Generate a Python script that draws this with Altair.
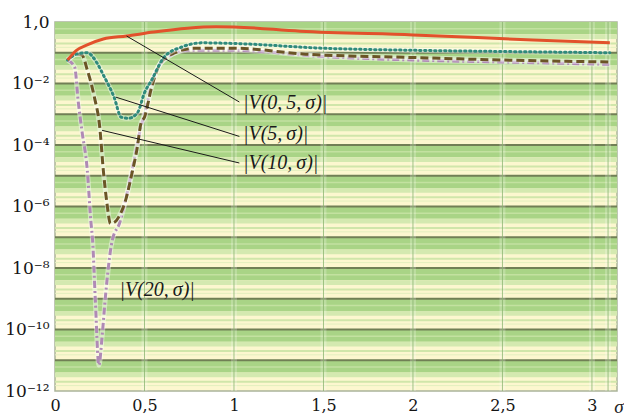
import math
import altair as alt
import pandas as pd

# ---------------- data ----------------
red_sigma = [0.07, 0.12, 0.18, 0.27, 0.40, 0.55, 0.74, 0.90, 1.00, 1.37, 2.00, 2.67, 3.10]
red_val = [0.058, 0.12, 0.18, 0.28, 0.35, 0.47, 0.63, 0.70, 0.69, 0.50, 0.38, 0.26, 0.21]

teal_sigma = [0.07, 0.12, 0.18, 0.235, 0.27, 0.33, 0.37, 0.41, 0.46, 0.50, 0.54, 0.61,
              0.71, 0.82, 1.00, 1.50, 2.00, 2.50, 3.10]
teal_val = [0.058, 0.09, 0.10, 0.046, 0.019, 0.0036, 0.0008, 0.00074, 0.0011, 0.005, 0.013,
            0.072, 0.155, 0.21, 0.20, 0.14, 0.12, 0.11, 0.10]

brown_sigma = [0.07, 0.12, 0.15, 0.18, 0.22, 0.25, 0.27, 0.29, 0.31, 0.33, 0.36, 0.39, 0.43,
               0.46, 0.48, 0.50, 0.54, 0.59, 0.67, 0.78, 1.00, 1.40, 2.00, 2.50, 3.10]
brown_val = [0.058, 0.09, 0.085, 0.028, 0.0036, 0.00038, 1.5e-5, 1.3e-6, 2.8e-7, 3.0e-7, 5e-7,
             1.3e-6, 1.2e-5, 8.5e-5, 5e-4, 8e-4, 0.0076, 0.046, 0.10, 0.14, 0.14, 0.09, 0.07,
             0.058, 0.05]

pink_sigma = [0.07, 0.11, 0.13, 0.15, 0.18, 0.20, 0.21, 0.225, 0.245, 0.265, 0.28, 0.32, 0.36,
              0.43, 0.48, 0.51, 0.55, 0.63, 0.74, 1.00, 1.50, 2.00, 2.50, 3.10]
pink_val = [0.058, 0.034, 0.0025, 3e-4, 1.6e-5, 3.5e-7, 8e-8, 1e-9, 7e-12, 8e-11, 9e-10, 8e-8,
            2.8e-7, 1.5e-5, 3.8e-4, 0.0017, 0.016, 0.072, 0.12, 0.12, 0.075, 0.058, 0.05, 0.042]

label_text = ["|V(0,\u20095,\u2009σ)|", "|V(5,\u2009σ)|", "|V(10,\u2009σ)|", "|V(20,\u2009σ)|"]
label_x = [1.05, 1.05, 1.05, 0.36]
label_y = [0.0023, 2.2e-4, 2.6e-5, 1.9e-9]

leader_x1 = [0.40, 0.34, 0.263]
leader_y1 = [0.35, 0.0036, 3e-4]
leader_x2 = [1.03, 1.03, 1.03]
leader_y2 = [0.0025, 1.9e-4, 2.6e-5]

x_tick_values = [0, 0.5, 1, 1.5, 2, 2.5, 3]
x_tick_labels = ["0", "0,5", "1", "1,5", "2", "2,5", "3"]
y_tick_values = [1, 1e-2, 1e-4, 1e-6, 1e-8, 1e-10, 1e-12]
y_tick_labels = ["1,0", "10⁻²", "10⁻⁴", "10⁻⁶", "10⁻⁸", "10⁻¹⁰", "10⁻¹²"]

decades = list(range(-12, 0))
vgrid = [0.5, 1, 1.5, 2, 2.5, 3, 3.09]

# ---------------- helpers ----------------
W, H = 562, 369
FONT = "Liberation Serif"
AXFONT = "DejaVu Serif"
xscale = alt.Scale(domain=[0, 3.14], nice=False, zero=False)
yscale = alt.Scale(type="log", domain=[1e-12, 1], nice=False)


def xlab_expr():
    s = ""
    for v, l in zip(x_tick_values, x_tick_labels):
        s += f"abs(datum.value - {v}) < 0.01 ? '{l}' : "
    return s + "''"


def ylab_expr():
    s = ""
    for v, l in zip(y_tick_values, y_tick_labels):
        e = round(math.log10(v))
        s += f"abs(log(datum.value)/LN10 - ({e})) < 0.1 ? '{l}' : "
    return s + "''"


xaxis = alt.Axis(values=x_tick_values, labelExpr=xlab_expr(), grid=False, domain=False,
                 ticks=False, labelFont=AXFONT, labelFontSize=16,
                 labelColor="#151515", labelPadding=6, labelFlush=False, title=None)
yaxis = alt.Axis(values=y_tick_values, labelExpr=ylab_expr(), grid=False, domain=False,
                 ticks=False, labelFont=AXFONT, labelFontSize=17,
                 labelColor="#151515", labelPadding=6, labelFlush=False, title=None)


def X(field):
    return alt.X(field, type="quantitative", scale=xscale, axis=xaxis)


def Y(field):
    return alt.Y(field, type="quantitative", scale=yscale, axis=yaxis)


# ---------------- background stripes ----------------
bands = []
for d in decades:
    bands.append({"y": 4 * 10.0 ** d, "y2": 10.0 ** (d + 1), "c": "#a9d486"})
    bands.append({"y": 2.8 * 10.0 ** d, "y2": 4 * 10.0 ** d, "c": "#d4e9b0"})
bands_df = pd.DataFrame(bands)

lines_bg = []
for d in decades:
    lines_bg.append({"y": 2 * 10.0 ** d, "c": "#d0e6aa", "w": 2})
    lines_bg.append({"y": 1.5 * 10.0 ** d, "c": "#e3efbf", "w": 1})
    lines_bg.append({"y": 6 * 10.0 ** d, "c": "#c3e1a0", "w": 1.5})
    if d + 1 < 0:
        lines_bg.append({"y": 10.0 ** (d + 1), "c": "#717f55", "w": 2})
lines_df = pd.DataFrame(lines_bg)

band_layer = alt.Chart(bands_df).mark_rect().encode(
    x=alt.value(0), x2=alt.value(W),
    y=Y("y"), y2="y2:Q",
    color=alt.Color("c:N", scale=None),
)

hline_layer = alt.Chart(lines_df).mark_rule().encode(
    y=Y("y"),
    color=alt.Color("c:N", scale=None),
    strokeWidth=alt.StrokeWidth("w:Q", scale=None),
)

vgrid_df = pd.DataFrame({"x": vgrid})
vhalo = alt.Chart(vgrid_df).mark_rule(color="#ffffff", strokeWidth=6, opacity=0.22).encode(x=X("x"))
vline = alt.Chart(vgrid_df).mark_rule(color="#86b06a", strokeWidth=1, opacity=0.75).encode(x=X("x"))


# ---------------- curves ----------------
def curve(sig, val, color, dash=None, width=3, halo=True):
    df = pd.DataFrame({"s": sig, "v": val})
    enc = dict(x=X("s"), y=Y("v"))
    layers = []
    if halo:
        layers.append(alt.Chart(df).mark_line(color="#ffffff", strokeWidth=width + 2, opacity=0.45,
                                              interpolate="monotone").encode(**enc))
    kw = dict(color=color, strokeWidth=width, interpolate="monotone")
    if dash:
        kw["strokeDash"] = dash
        kw["strokeCap"] = "round" if dash[0] <= 2 else "butt"
    layers.append(alt.Chart(df).mark_line(**kw).encode(**enc))
    return layers


curves = []
curves += curve(pink_sigma, pink_val, "#b08ab6", dash=[7, 3, 2, 3])
curves += curve(brown_sigma, brown_val, "#6b5526", dash=[8, 4])
curves += curve(teal_sigma, teal_val, "#2f8a7c", dash=[1.5, 3.5])
curves += curve(red_sigma, red_val, "#e2512b", halo=False)

# ---------------- annotations ----------------
lead_df = pd.DataFrame({"x1": leader_x1, "y1": leader_y1, "x2": leader_x2, "y2": leader_y2})
leaders = alt.Chart(lead_df).mark_rule(color="#1a1a1a", strokeWidth=1).encode(
    x=X("x1"), x2="x2:Q", y=Y("y1"), y2="y2:Q",
)

lab_df = pd.DataFrame({"t": label_text, "x": label_x, "y": label_y})
labels = alt.Chart(lab_df).mark_text(
    font=FONT, fontSize=20, fontStyle="italic", color="#1a1a1a", align="left", baseline="middle"
).encode(x=X("x"), y=Y("y"), text="t:N")

sigma_lab = alt.Chart(pd.DataFrame({"t": ["σ"]})).mark_text(
    font=FONT, fontSize=19, fontStyle="italic", color="#222222", align="center", baseline="middle"
).encode(x=alt.value(W + 2), y=alt.value(H + 16), text="t:N")

chart = alt.layer(
    band_layer, hline_layer, vhalo, vline, *curves, leaders, labels, sigma_lab
).properties(
    width=W, height=H,
    autosize="none",
    padding={"left": 55, "top": 22, "right": 7, "bottom": 28},
    background="#ffffff",
).configure_view(
    fill="#fcf7cf", stroke="#aab49a", strokeWidth=1.5
)

chart.save("out.html", embed_options={"renderer": "svg", "actions": False})
